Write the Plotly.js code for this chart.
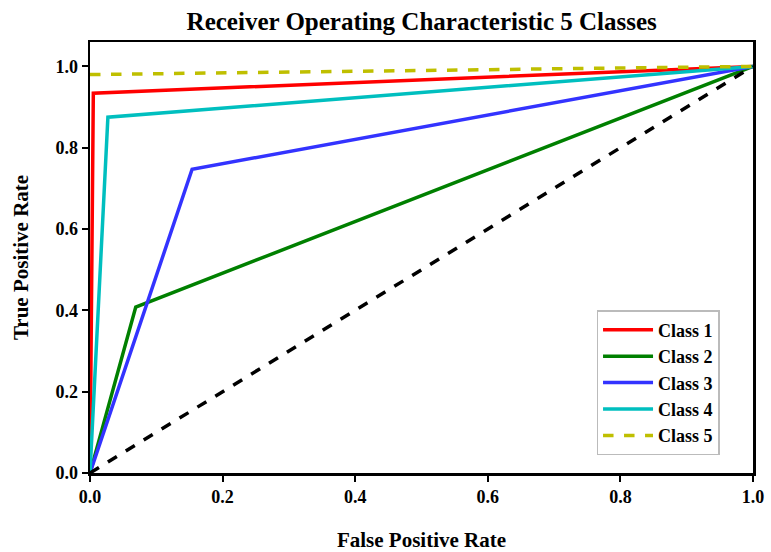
<!DOCTYPE html>
<html><head><meta charset="utf-8">
<script src="https://cdn.plot.ly/plotly-3.0.1.min.js"></script>
<style>body{margin:0;background:#fff}#c{width:771px;height:552px}</style>
</head><body><div id="c"></div>
<script>
const names = ["Class 1","Class 2","Class 3","Class 4","Class 5"];
const colors = ["#ff0000","#008000","#3333ff","#00bfbf","#bfbf00"];
const dashes = ["solid","solid","solid","solid","dash"];
const fpr = [
  [0, 0.005, 1],
  [0, 0.069, 1],
  [0, 0.154, 1],
  [0, 0.027, 1],
  [0, 1]
];
const tpr = [
  [0, 0.934, 1],
  [0, 0.408, 1],
  [0, 0.747, 1],
  [0, 0.875, 1],
  [0.98, 1]
];
const diagX = [0, 1];
const diagY = [0, 1];
const tickVals = [0, 0.2, 0.4, 0.6, 0.8, 1.0];
const tickText = ["0.0","0.2","0.4","0.6","0.8","1.0"];

const font = "Liberation Serif, Times New Roman, serif";
const traces = names.map((n,i)=>({
  x: fpr[i], y: tpr[i], name: n, legendgroup: "g"+i, mode: "lines", type: "scatter",
  line: {color: colors[i], width: 3.5, dash: dashes[i]}
}));
traces.push({x: diagX, y: diagY, mode:"lines", type:"scatter", showlegend:false,
  line:{color:"#000", width:3.5, dash:"dash"}});

const axisCommon = {
  showgrid:false, zeroline:false, showline:true, mirror:true, linecolor:"#000", linewidth:2.5,
  ticks:"outside", ticklen:6, tickwidth:2, tickcolor:"#000",
  tickvals: tickVals, ticktext: tickText,
  tickfont:{family:font, size:18, color:"#000", weight:"bold"}
};
const layout = {
  width:771, height:552,
  margin:{l:90, r:18, t:42, b:79},
  paper_bgcolor:"#fff", plot_bgcolor:"#fff",
  title:{text:"<b>Receiver Operating Characteristic 5 Classes</b>", x:0.547, xanchor:"center", y:0.962, yanchor:"middle",
    font:{family:font, size:25, color:"#000"}},
  xaxis:Object.assign({}, axisCommon, {range:[0,1],
    title:{text:"<b>False Positive Rate</b>", font:{family:font, size:21, color:"#000"}, standoff:28}}),
  yaxis:Object.assign({}, axisCommon, {range:[0,1.06],
    title:{text:"<b>True Positive Rate</b>", font:{family:font, size:21, color:"#000"}, standoff:21}}),
  legend:{x:0.764, y:0.378, xanchor:"left", yanchor:"top", bgcolor:"#fff",
    bordercolor:"#bbb", borderwidth:1.5, traceorder:"normal",
    font:{family:font, size:18, color:"#000", weight:"bold"}, tracegroupgap:7, itemwidth:50},
  showlegend:true
};
Plotly.newPlot("c", traces, layout, {displayModeBar:false, staticPlot:true});
</script></body></html>
